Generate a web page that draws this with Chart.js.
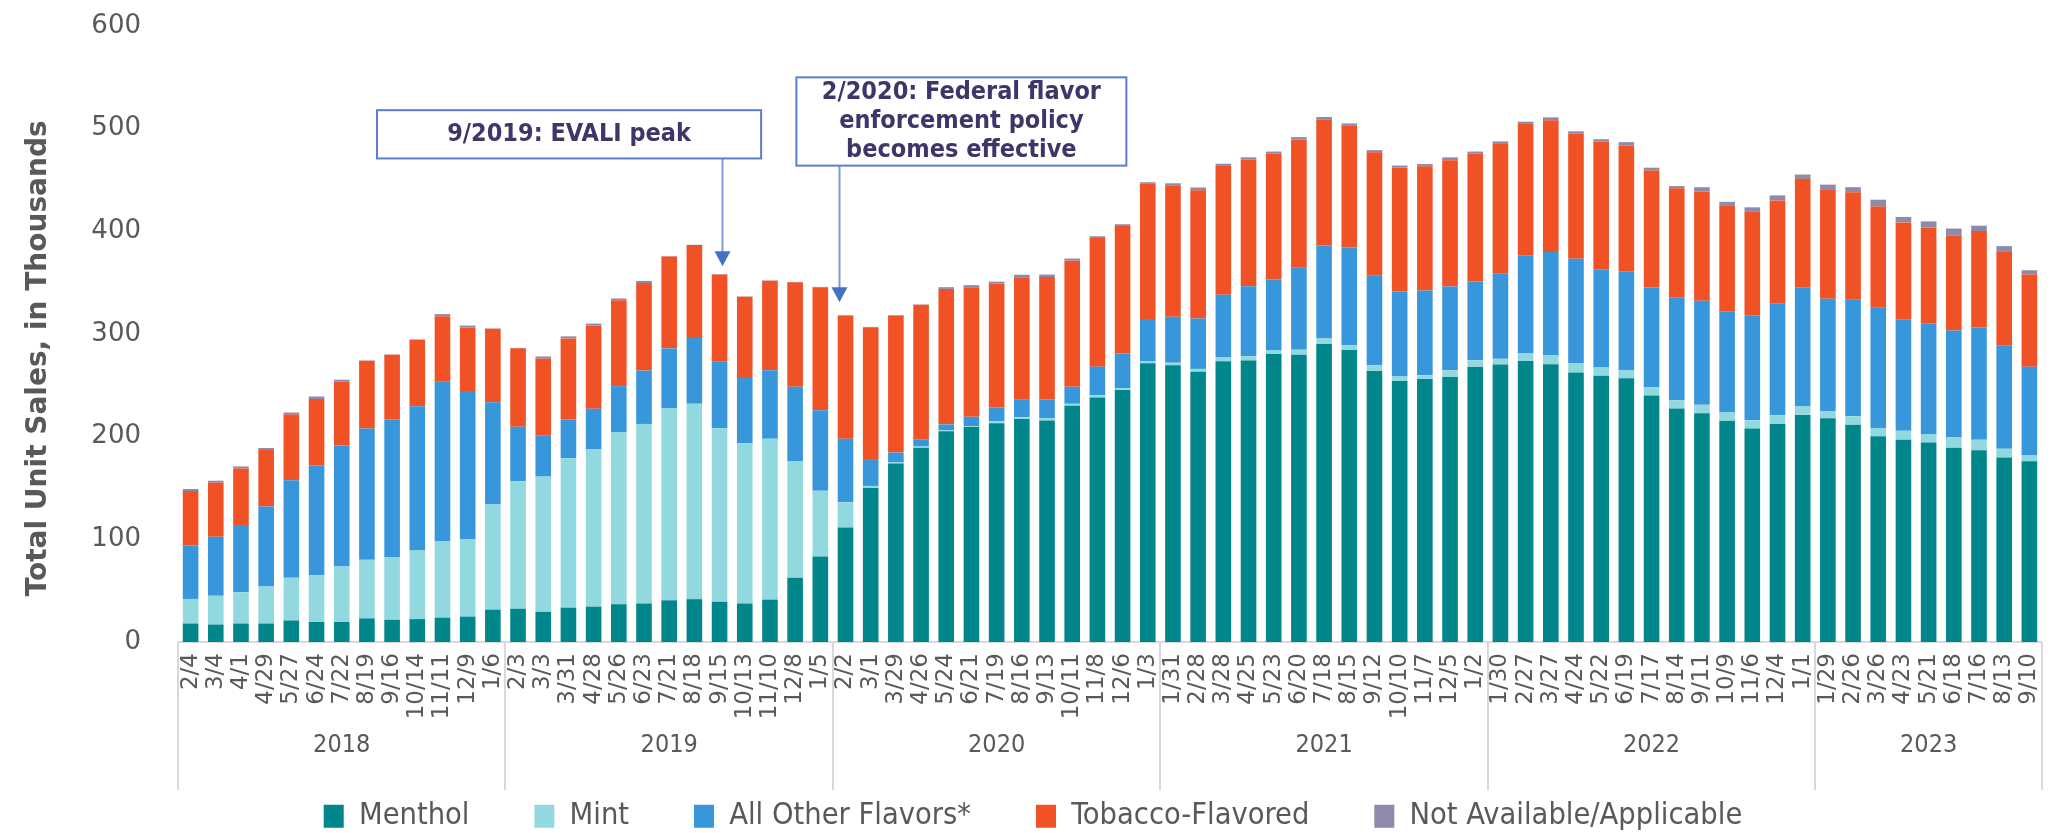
<!DOCTYPE html>
<html>
<head>
<meta charset="utf-8">
<title>E-cigarette unit sales by flavor</title>
<script src="https://cdn.jsdelivr.net/npm/chart.js@4.4.0/dist/chart.umd.min.js"></script>
<style>
  html, body { margin: 0; padding: 0; background: #fff; }
</style>
</head>
<body>
<canvas id="myChart" width="2068" height="833"></canvas>
<script>
//Data - 4-week periods, unit sales in thousands
const periodLabels = [
  "2/4", "3/4", "4/1", "4/29", "5/27", "6/24", "7/22", "8/19", "9/16", "10/14", "11/11", "12/9", "1/6",
  "2/3", "3/3", "3/31", "4/28", "5/26", "6/23", "7/21", "8/18", "9/15", "10/13", "11/10", "12/8", "1/5",
  "2/2", "3/1", "3/29", "4/26", "5/24", "6/21", "7/19", "8/16", "9/13", "10/11", "11/8", "12/6", "1/3",
  "1/31", "2/28", "3/28", "4/25", "5/23", "6/20", "7/18", "8/15", "9/12", "10/10", "11/7", "12/5", "1/2",
  "1/30", "2/27", "3/27", "4/24", "5/22", "6/19", "7/17", "8/14", "9/11", "10/9", "11/6", "12/4", "1/1",
  "1/29", "2/26", "3/26", "4/23", "5/21", "6/18", "7/16", "8/13", "9/10",
];
const years = ["2018", "2019", "2020", "2021", "2022", "2023"];
const yearStarts = [0, 13, 26, 39, 52, 65];

const menthol = [
  18, 17, 18, 18, 21, 19.5, 19.5, 23, 21.6, 22.3, 23.7, 24.7, 31.5,
  32.4, 29.3, 33.4, 34.4, 36.8, 37.5, 40.6, 41.7, 39.2, 37.5, 41.3, 62.6, 83.3,
  111.5, 150, 173.8, 189.3, 205.2, 209.3, 213.1, 217.2, 215.8, 230, 238.2, 245.4, 271.6,
  269.5, 263.2, 273.4, 274.1, 280.4, 279.7, 290.2, 284.3, 263.9, 254.1, 256.2, 258, 267.8,
  270.2, 273.7, 270.6, 262.5, 259.4, 256.9, 240.1, 227.5, 222.9, 215.6, 207.9, 212.4, 221.2,
  218, 211.7, 200.5, 197, 194.2, 189.3, 186.8, 179.8, 176,
];
const mint = [
  24, 28, 30.5, 36, 41.5, 45.6, 54, 57, 60.7, 66.8, 74.7, 75.7, 102.5,
  124, 131.8, 145.6, 153.6, 167.7, 174.9, 186.9, 190.3, 169.1, 156, 156.6, 113.6, 64,
  24.5, 2, 1.1, 1.1, 1, 1, 2, 1.7, 2, 2, 2.1, 1.8, 2.1,
  2.5, 2.8, 4.2, 4.2, 3.5, 4.9, 5.3, 4.9, 6, 4.6, 3.5, 6.6, 6.6,
  5.6, 7.4, 8.8, 9.1, 8, 8.1, 8.1, 8, 8.1, 8, 8, 8.4, 8.7,
  7, 8.1, 8, 8.7, 8, 9.8, 10.2, 8.4, 5.6,
];
const otherFlavors = [
  52, 57.6, 65.5, 78, 95, 107, 118, 128, 134.4, 140.6, 155, 144, 99.5,
  53.3, 40.3, 37.9, 39.2, 44.7, 52, 58.5, 64, 64.7, 63.6, 66.8, 72.3, 78.5,
  62, 26.2, 9.6, 6.5, 5.8, 9, 13.5, 17.6, 18.6, 16.5, 27.9, 34, 40.9,
  44.7, 49.1, 60.6, 68.3, 69.1, 79.9, 90.8, 95, 86.9, 82.7, 82.7, 81.7, 76.8,
  82.8, 95.7, 100.5, 101.7, 95.7, 96, 97, 99.9, 101.3, 98.5, 102.4, 108.7, 115.7,
  109.4, 113.5, 117.1, 108.3, 108.3, 104.4, 109.3, 100.3, 86.5,
];
const tobacco = [
  53, 52.5, 55, 55, 64, 64.5, 62, 66, 63, 64.8, 64, 62, 71.5,
  76.4, 74.7, 78.8, 81.2, 83.7, 85.3, 89.6, 90.6, 85, 79.2, 87.1, 101.9, 119.8,
  120.1, 128.4, 133.6, 131.5, 131.9, 126.3, 120.4, 118.8, 119.1, 122.9, 125.3, 124, 131.9,
  127.7, 124.8, 125.5, 123.4, 122.6, 124.8, 122.3, 118.8, 120.2, 120.6, 121, 123, 124.4,
  127.2, 127.9, 128.3, 122, 124.5, 122.7, 114, 106.6, 106.5, 102.7, 100.9, 100.6, 105.5,
  106.5, 104.8, 98.5, 94.7, 93.3, 92.2, 94, 92.1, 89.8,
];
const notAvailable = [
  2, 2, 2, 2, 2, 2.5, 2, 0.3, 0.3, 0.3, 2, 1.8, 0.3,
  0.3, 2, 2, 1.8, 1.7, 2, 0.3, 0.3, 0.3, 0.3, 0.3, 0.3, 0.3,
  0.3, 0.3, 0.3, 0.3, 1.7, 2, 2, 2.4, 2.4, 2.1, 1.7, 1.7, 1.3,
  2.4, 2.8, 2.1, 2.1, 2.1, 2.5, 2.8, 2.1, 2.1, 2.1, 2.1, 2.8, 2.1,
  1.8, 2.1, 2.8, 2.1, 2.1, 3.2, 2.8, 2.1, 4.2, 3.9, 4.2, 4.9, 4.2,
  4.6, 4.9, 6.7, 5.3, 5.9, 7, 5.2, 5, 4.2,
];
const seriesNames = ["Menthol", "Mint", "All Other Flavors*", "Tobacco-Flavored", "Not Available/Applicable"];
const eventNotes = [
  ["9/2019: EVALI peak"],
  ["2/2020: Federal flavor", "enforcement policy", "becomes effective"],
];

//Selectors
var ctx = document.querySelector("#myChart").getContext("2d");

const grayText = "#595959";
const plainFont = "'DejaVu Sans', Verdana, sans-serif";
const narrowFont = "'DejaVu Sans Condensed', 'Liberation Sans Narrow', 'DejaVu Sans', sans-serif";

//one year label, under the middle bar of each group
let yearLabels = periodLabels.map(() => "");
yearStarts.forEach(function (start, i) {
  const end = i + 1 < yearStarts.length ? yearStarts[i + 1] : periodLabels.length;
  yearLabels[start + Math.floor((end - start) / 2)] = years[i];
});

//where the note boxes sit (bar index / thousands)
const notePlacement = [
  { from: 7.4, to: 22.65, top: 518, bottom: 471, arrowAt: 21.1, arrowTip: 366 },
  { from: 24.05, to: 37.15, top: 550, bottom: 464, arrowAt: 25.75, arrowTip: 331 },
];

const yearDividers = {
  id: "yearDividers",
  afterDraw(chart) {
    const { ctx, scales } = chart;
    const x = scales.x;
    ctx.save();
    ctx.strokeStyle = "#d9d9d9";
    ctx.lineWidth = 2;
    yearStarts.concat(periodLabels.length).forEach(function (i) {
      const px = Math.round(x.getPixelForValue(i - 0.5));
      ctx.beginPath();
      ctx.moveTo(px, x.top);
      ctx.lineTo(px, scales.year.bottom - 1);
      ctx.stroke();
    });
    ctx.restore();
  },
};

const callouts = {
  id: "callouts",
  afterDatasetsDraw(chart) {
    const { ctx, scales } = chart;
    const x = scales.x;
    const y = scales.y;
    ctx.save();
    eventNotes.forEach(function (lines, n) {
      const p = notePlacement[n];
      const left = x.getPixelForValue(p.from);
      const right = x.getPixelForValue(p.to);
      const top = y.getPixelForValue(p.top);
      const bottom = y.getPixelForValue(p.bottom);
      const ax = Math.round(x.getPixelForValue(p.arrowAt)) + 0.5;
      const tip = y.getPixelForValue(p.arrowTip);

      //arrow
      ctx.strokeStyle = "#7b9ae0";
      ctx.lineWidth = 2;
      ctx.beginPath();
      ctx.moveTo(ax, bottom);
      ctx.lineTo(ax, tip - 12);
      ctx.stroke();
      ctx.fillStyle = "#4472c4";
      ctx.beginPath();
      ctx.moveTo(ax - 8, tip - 15);
      ctx.lineTo(ax + 8, tip - 15);
      ctx.lineTo(ax, tip);
      ctx.closePath();
      ctx.fill();

      //box
      ctx.fillStyle = "#ffffff";
      ctx.fillRect(left, top, right - left, bottom - top);
      ctx.strokeStyle = "#5a7fcf";
      ctx.lineWidth = 2;
      ctx.strokeRect(left, top, right - left, bottom - top);

      //text
      ctx.fillStyle = "#3d3769";
      ctx.font = "bold 25px " + narrowFont;
      ctx.textAlign = "center";
      ctx.textBaseline = "middle";
      const lh = 29;
      const cy = (top + bottom) / 2 - ((lines.length - 1) * lh) / 2;
      lines.forEach(function (line, k) {
        ctx.fillText(line, (left + right) / 2, cy + k * lh);
      });
    });
    ctx.restore();
  },
};

const seriesData = [menthol, mint, otherFlavors, tobacco, notAvailable];
const seriesColors = ["#00868b", "#92d9df", "#3897db", "#f05125", "#8e8aab"];

var myChart = new Chart(ctx, {
  type: "bar",
  data: {
    labels: periodLabels,
    datasets: seriesNames.map(function (name, i) {
      return {
        label: name,
        data: seriesData[i],
        backgroundColor: seriesColors[i],
        borderWidth: 0,
        barPercentage: 0.62,
        categoryPercentage: 1.0,
      };
    }),
  },
  options: {
    responsive: false,
    animation: false,
    devicePixelRatio: 1,
    layout: { padding: { top: 26, right: 2, bottom: 0, left: 0 } },
    plugins: {
      tooltip: { enabled: false },
      legend: {
        position: "bottom",
        maxHeight: 42,
        labels: {
          boxWidth: 20,
          boxHeight: 23,
          padding: 10,
          color: grayText,
          font: { family: narrowFont, size: 30.5 },
          generateLabels: function (chart) {
            const items = Chart.defaults.plugins.legend.labels.generateLabels(chart);
            //wider gap between the entries
            items.forEach(function (item, i) {
              if (i < items.length - 1) item.text += "\u2003\u2003";
            });
            return items;
          },
        },
      },
    },
    scales: {
      x: {
        stacked: true,
        offset: true,
        weight: 0,
        grid: { display: false, drawTicks: false },
        border: { display: true, color: "#d9d9d9", width: 2 },
        ticks: {
          autoSkip: false,
          minRotation: 90,
          maxRotation: 90,
          padding: 11,
          color: grayText,
          font: { family: plainFont, size: 23 },
        },
        afterFit: function (scale) {
          scale.height = 80;
        },
      },
      year: {
        type: "category",
        axis: "x",
        position: "bottom",
        labels: yearLabels,
        offset: true,
        weight: 1,
        grid: { display: false, drawTicks: false },
        border: { display: false },
        ticks: {
          autoSkip: false,
          minRotation: 0,
          maxRotation: 0,
          padding: 8,
          color: grayText,
          font: { family: narrowFont, size: 25 },
        },
        afterFit: function (scale) {
          scale.height = 69;
        },
      },
      y: {
        stacked: true,
        min: 0,
        max: 600,
        //hidden tick marks keep the labels away from the bars
        grid: { display: false, drawTicks: true, tickLength: 33 },
        border: { display: false },
        ticks: {
          stepSize: 100,
          padding: 4,
          color: grayText,
          font: { family: plainFont, size: 26 },
        },
        title: {
          display: true,
          //trailing spaces nudge the title down a little, as in the original
          text: "Total Unit Sales, in Thousands\u00a0\u00a0\u00a0\u00a0\u00a0",
          color: grayText,
          font: { family: plainFont, size: 28, weight: "bold" },
          padding: { top: 22, bottom: 0 },
        },
        afterFit: function (scale) {
          scale.width = 178;
        },
      },
    },
  },
  plugins: [yearDividers, callouts],
});
</script>
</body>
</html>
